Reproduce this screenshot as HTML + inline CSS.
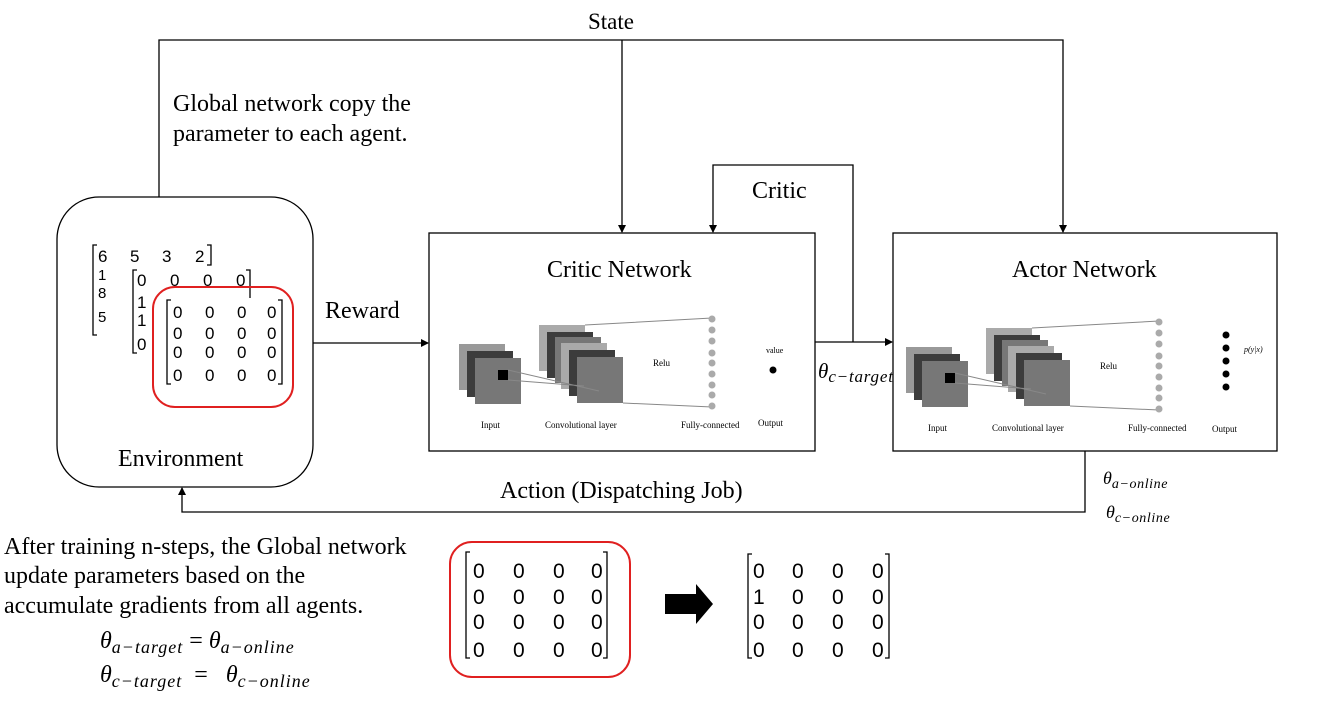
<!DOCTYPE html>
<html><head><meta charset="utf-8"><style>
body{margin:0;background:#fff}
svg{display:block}
text{font-family:"Liberation Serif",serif;fill:#000}
.s{font-family:"Liberation Sans","DejaVu Sans",sans-serif}
.m{font-style:italic}
</style></head><body>
<svg width="1330" height="707" viewBox="0 0 1330 707">
<defs>
<marker id="a" markerWidth="8" markerHeight="8" refX="7" refY="4" orient="auto" markerUnits="userSpaceOnUse"><path d="M0,0 L8,4 L0,8z" fill="#000"/></marker>
<g id="net">
 <rect x="0" y="0" width="46" height="46" fill="#999"/>
 <rect x="8" y="7" width="46" height="46" fill="#3c3c3c"/>
 <rect x="16" y="14" width="46" height="46" fill="#777"/>
 <rect x="39" y="26" width="10" height="10" fill="#000"/>
 <rect x="80" y="-19" width="46" height="46" fill="#aaa"/>
 <rect x="88" y="-12" width="46" height="46" fill="#3c3c3c"/>
 <rect x="96" y="-7" width="46" height="46" fill="#777"/>
 <rect x="102" y="-1" width="46" height="46" fill="#aaa"/>
 <rect x="110" y="6" width="46" height="46" fill="#3c3c3c"/>
 <rect x="118" y="13" width="46" height="46" fill="#777"/>
 <path d="M49,26 L140,47 M49,36 L125,42 M126,-19 L253,-26 M164,59 L253,63" stroke="#888" fill="none"/>
 <g fill="#aaa"><circle cx="253" cy="-25" r="3.5"/><circle cx="253" cy="-14" r="3.5"/><circle cx="253" cy="-3" r="3.5"/><circle cx="253" cy="9" r="3.5"/><circle cx="253" cy="19" r="3.5"/><circle cx="253" cy="30" r="3.5"/><circle cx="253" cy="41" r="3.5"/><circle cx="253" cy="51" r="3.5"/><circle cx="253" cy="62" r="3.5"/></g>
 <text x="194" y="22" font-size="9">Relu</text>
 <text x="22" y="84" font-size="9">Input</text>
 <text x="86" y="84" font-size="9">Convolutional layer</text>
 <text x="222" y="84" font-size="9">Fully-connected</text>
</g>
</defs>
<g stroke="#000" stroke-width="1.3" fill="none">
 <polyline points="159,197 159,40 1063,40 1063,232" marker-end="url(#a)"/>
 <line x1="622" y1="40" x2="622" y2="232" marker-end="url(#a)"/>
 <polyline points="853,342 853,165 713,165 713,232" marker-end="url(#a)"/>
 <line x1="313" y1="343" x2="428" y2="343" marker-end="url(#a)"/>
 <line x1="815" y1="342" x2="892" y2="342" marker-end="url(#a)"/>
 <polyline points="1085,451 1085,512 182,512 182,488" marker-end="url(#a)"/>
 <rect x="57" y="197" width="256" height="290" rx="42"/>
 <rect x="429" y="233" width="386" height="218"/>
 <rect x="893" y="233" width="384" height="218"/>
</g>
<text x="588" y="29" font-size="23">State</text>
<text x="173" y="111" font-size="24">Global network copy the</text>
<text x="173" y="141" font-size="24">parameter to each agent.</text>
<text x="752" y="198" font-size="24">Critic</text>
<text x="325" y="318" font-size="24">Reward</text>
<text x="547" y="277" font-size="24">Critic Network</text>
<text x="1012" y="277" font-size="24">Actor Network</text>
<text x="118" y="466" font-size="24">Environment</text>
<text x="500" y="498" font-size="24">Action (Dispatching Job)</text>
<text x="818" y="378" font-size="21" class="m">θ<tspan font-size="17" dy="4" letter-spacing="0.8">c−target</tspan></text>
<text x="1103" y="484" font-size="18" class="m">θ<tspan font-size="14" dy="4" letter-spacing="0.6">a−online</tspan></text>
<text x="1106" y="518" font-size="18" class="m">θ<tspan font-size="14" dy="4" letter-spacing="0.6">c−online</tspan></text>
<use href="#net" x="459" y="344"/>
<use href="#net" x="906" y="347"/>
<text x="766" y="353" font-size="8">value</text>
<circle cx="773" cy="370" r="3.5"/>
<text x="758" y="426" font-size="9">Output</text>
<g fill="#000"><circle cx="1226" cy="335" r="3.5"/><circle cx="1226" cy="348" r="3.5"/><circle cx="1226" cy="361" r="3.5"/><circle cx="1226" cy="374" r="3.5"/><circle cx="1226" cy="387" r="3.5"/></g>
<text x="1244" y="352" font-size="8" class="m">p(y|x)</text>
<text x="1212" y="432" font-size="9">Output</text>
<!-- env matrices -->
<text class="s" x="98" y="262" font-size="17">6</text><text class="s" x="130" y="262" font-size="17">5</text><text class="s" x="162" y="262" font-size="17">3</text><text class="s" x="195" y="262" font-size="17">2</text>
<text class="s" x="98" y="280" font-size="15">1</text><text class="s" x="98" y="298" font-size="15">8</text><text class="s" x="98" y="322" font-size="15">5</text>
<text class="s" x="137" y="286" font-size="17">0</text><text class="s" x="170" y="286" font-size="17">0</text><text class="s" x="203" y="286" font-size="17">0</text><text class="s" x="236" y="286" font-size="17">0</text>
<text class="s" x="137" y="308" font-size="17">1</text><text class="s" x="137" y="326" font-size="17">1</text><text class="s" x="137" y="350" font-size="17">0</text>
<g stroke="#000" stroke-width="1.3" fill="none">
<path d="M97,245 h-4 v90 h4 M207,245 h4 v20 h-4"/>
<path d="M137,270 h-4 v83 h4 M246,270 h4 v28"/>
<path d="M171,300 h-4 v84 h4 M278,300 h4 v84 h-4"/>
<path d="M470,552 h-4 v106 h4 M603,552 h4 v106 h-4"/>
<path d="M752,554 h-4 v104 h4 M885,554 h4 v104 h-4"/>
</g>
<rect x="153" y="287" width="140" height="120" rx="22" fill="none" stroke="#e02020" stroke-width="2"/>
<g font-size="17">
<text class="s" x="173" y="318">0</text><text class="s" x="205" y="318">0</text><text class="s" x="237" y="318">0</text><text class="s" x="267" y="318">0</text>
<text class="s" x="173" y="339">0</text><text class="s" x="205" y="339">0</text><text class="s" x="237" y="339">0</text><text class="s" x="267" y="339">0</text>
<text class="s" x="173" y="358">0</text><text class="s" x="205" y="358">0</text><text class="s" x="237" y="358">0</text><text class="s" x="267" y="358">0</text>
<text class="s" x="173" y="381">0</text><text class="s" x="205" y="381">0</text><text class="s" x="237" y="381">0</text><text class="s" x="267" y="381">0</text>
</g>
<!-- bottom -->
<text x="4" y="554" font-size="24">After training n-steps, the Global network</text>
<text x="4" y="583" font-size="24">update parameters based on the</text>
<text x="4" y="613" font-size="24">accumulate gradients from all agents.</text>
<text x="100" y="648" font-size="24" class="m">θ<tspan font-size="18" dy="5" letter-spacing="1">a−target</tspan><tspan dy="-5" font-style="normal"> = </tspan>θ<tspan font-size="18" dy="5" letter-spacing="1">a−online</tspan></text>
<text x="100" y="682" font-size="24" class="m">θ<tspan font-size="18" dy="5" letter-spacing="1">c−target</tspan><tspan dy="-5" font-style="normal" xml:space="preserve">  =   </tspan>θ<tspan font-size="18" dy="5" letter-spacing="1">c−online</tspan></text>
<rect x="450" y="542" width="180" height="135" rx="22" fill="none" stroke="#e02020" stroke-width="2"/>
<g font-size="21">
<text class="s" x="473" y="578">0</text><text class="s" x="513" y="578">0</text><text class="s" x="553" y="578">0</text><text class="s" x="591" y="578">0</text>
<text class="s" x="473" y="604">0</text><text class="s" x="513" y="604">0</text><text class="s" x="553" y="604">0</text><text class="s" x="591" y="604">0</text>
<text class="s" x="473" y="629">0</text><text class="s" x="513" y="629">0</text><text class="s" x="553" y="629">0</text><text class="s" x="591" y="629">0</text>
<text class="s" x="473" y="657">0</text><text class="s" x="513" y="657">0</text><text class="s" x="553" y="657">0</text><text class="s" x="591" y="657">0</text>
<text class="s" x="753" y="578">0</text><text class="s" x="792" y="578">0</text><text class="s" x="832" y="578">0</text><text class="s" x="872" y="578">0</text>
<text class="s" x="753" y="604">1</text><text class="s" x="792" y="604">0</text><text class="s" x="832" y="604">0</text><text class="s" x="872" y="604">0</text>
<text class="s" x="753" y="629">0</text><text class="s" x="792" y="629">0</text><text class="s" x="832" y="629">0</text><text class="s" x="872" y="629">0</text>
<text class="s" x="753" y="657">0</text><text class="s" x="792" y="657">0</text><text class="s" x="832" y="657">0</text><text class="s" x="872" y="657">0</text>
</g>
<path d="M665,594 h31 v-10 l17,20 l-17,20 v-10 h-31 z" fill="#000"/>
</svg>
</body></html>
